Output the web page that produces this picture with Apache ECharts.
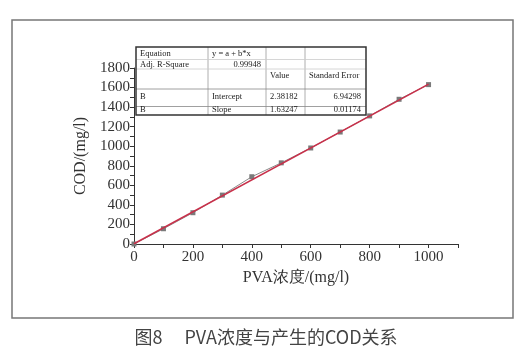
<!DOCTYPE html>
<html>
<head>
<meta charset="utf-8">
<script src="https://cdn.jsdelivr.net/npm/echarts@6/dist/echarts.min.js"></script>
<style>
  html, body { margin: 0; padding: 0; background: #fff; }
  #chart { width: 528px; height: 351px; }
</style>
</head>
<body>
<div id="chart"></div>
<script>
// measured PVA vs COD points
const pvaConc = [0, 100, 200, 300, 400, 500, 600, 700, 800, 900, 1000];
const codValues = [0, 156, 320, 500, 688, 830, 982, 1145, 1310, 1480, 1630];

// linear fit end points (from table: a = 2.38182, b = 1.63247)
const fitLine = [[0, 2.4], [1000, 1634.9]];

// fit table text
const tableRows = [
    ['Equation', 'y = a + b*x', '', ''],
    ['Adj. R-Square', '0.99948', '', ''],
    ['', '', 'Value', 'Standard Error'],
    ['B', 'Intercept', '2.38182', '6.94298'],
    ['B', 'Slope', '1.63247', '0.01174']
];

const serif = '"Liberation Serif", "DejaVu Serif", serif';
const axisColor = '#333';

const chart = echarts.init(document.getElementById('chart'));

// table drawn as graphic elements
const tX = [136, 208, 266, 305, 366];
const tY = [47, 59.5, 69, 89, 106.5, 115];
const rowTextY = [53.5, 64.5, 75.5, 97, 109.5];
const tableGraphics = [];
for (let i = 1; i < tX.length - 1; i++) {
    tableGraphics.push({
        type: 'line', shape: { x1: tX[i], y1: tY[0], x2: tX[i], y2: tY[5] },
        style: { stroke: '#999', lineWidth: 0.8 }
    });
}
for (let j = 1; j < tY.length - 1; j++) {
    tableGraphics.push({
        type: 'line', shape: { x1: tX[0], y1: tY[j], x2: tX[4], y2: tY[j] },
        style: { stroke: j >= 3 ? '#888' : '#ccc', lineWidth: 0.8 }
    });
}
tableGraphics.push({
    type: 'rect', shape: { x: tX[0], y: tY[0], width: tX[4] - tX[0], height: tY[5] - tY[0] },
    style: { fill: 'none', stroke: '#333', lineWidth: 1.5 }
});
tableRows.forEach((row, r) => {
    row.forEach((txt, c) => {
        if (!txt) return;
        let x = tX[c] + 4;
        let align = 'left';
        if ((r === 1 && c === 1) || (r >= 3 && c === 3)) {
            x = tX[c + 1] - 5;
            align = 'right';
        }
        tableGraphics.push({
            type: 'text', x: x, y: rowTextY[r],
            style: {
                text: txt, fill: '#222', font: '8.5px ' + serif,
                textAlign: align, textVerticalAlign: 'middle'
            }
        });
    });
});

const option = {
    backgroundColor: '#fff',
    animation: false,
    grid: { left: 134, right: 70, top: 68, bottom: 107 },
    xAxis: {
        type: 'value', min: 0, max: 1100, interval: 100,
        name: 'PVA浓度/(mg/l)', nameLocation: 'middle', nameGap: 17,
        nameTextStyle: { fontFamily: serif, fontSize: 16, color: axisColor },
        axisLine: { lineStyle: { color: axisColor, width: 1 } },
        axisTick: { lineStyle: { color: axisColor }, length: 4 },
        axisLabel: {
            fontFamily: serif, fontSize: 15, color: axisColor, margin: 6,
            formatter: v => (v % 200 === 0 && v <= 1000 ? v : '')
        },
        splitLine: { show: false }
    },
    yAxis: {
        type: 'value', min: 0, max: 1800, interval: 100,
        name: 'COD/(mg/l)', nameLocation: 'middle', nameGap: 43,
        nameTextStyle: { fontFamily: serif, fontSize: 16, color: axisColor },
        axisLine: { show: true, lineStyle: { color: axisColor, width: 1 } },
        axisTick: { show: true, lineStyle: { color: axisColor }, length: 4 },
        axisLabel: {
            fontFamily: serif, fontSize: 15, color: axisColor, margin: 4,
            formatter: v => (v % 200 === 0 ? v : '')
        },
        splitLine: { show: false }
    },
    series: [
        {
            type: 'line',
            data: pvaConc.map((x, i) => [x, codValues[i]]),
            symbol: 'rect', symbolSize: 5,
            itemStyle: { color: '#7a7a7a' },
            lineStyle: { color: '#8a8a8a', width: 1 },
            z: 3
        },
        {
            type: 'line',
            data: fitLine,
            symbol: 'none',
            lineStyle: { color: '#c8304a', width: 1.5 },
            z: 4
        }
    ],
    graphic: [
        {
            type: 'rect', shape: { x: 12, y: 20, width: 501, height: 298 },
            style: { fill: 'none', stroke: '#777', lineWidth: 1.5 }, z: 0
        },
        {
            type: 'text', x: 266, y: 337,
            style: {
                text: '图8　 PVA浓度与产生的COD关系', fill: '#444',
                font: '18px "Noto Sans CJK SC", sans-serif',
                textAlign: 'center', textVerticalAlign: 'middle'
            }
        },
        {
            type: 'group', z: 10,
            children: tableGraphics
        }
    ]
};

chart.setOption(option);
</script>
</body>
</html>
